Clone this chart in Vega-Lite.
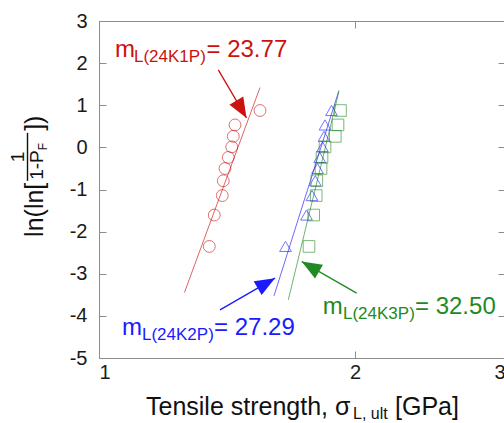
{
  "$schema": "https://vega.github.io/schema/vega-lite/v6.json",
  "width": 406,
  "height": 337,
  "autosize": {"type": "none"},
  "padding": {"left": 99, "top": 21, "right": 0, "bottom": 65},
  "background": "white",
  "config": {
    "view": {"stroke": "#8c8c8c", "strokeWidth": 1},
    "axis": {"grid": false, "domain": false, "tickColor": "#8c8c8c", "tickSize": -7, "labelFont": "Liberation Sans", "labelFontSize": 20, "labelColor": "#1a1a1a"},
    "text": {"font": "Liberation Sans"}
  },
  "datasets": {
    "pts": [
      {"series": "24K1P", "sigma": 1.3478, "lnln": -2.351},
      {"series": "24K1P", "sigma": 1.3661, "lnln": -1.606},
      {"series": "24K1P", "sigma": 1.3960, "lnln": -1.144},
      {"series": "24K1P", "sigma": 1.3998, "lnln": -0.794},
      {"series": "24K1P", "sigma": 1.4063, "lnln": -0.501},
      {"series": "24K1P", "sigma": 1.4189, "lnln": -0.238},
      {"series": "24K1P", "sigma": 1.4320, "lnln": 0.012},
      {"series": "24K1P", "sigma": 1.4382, "lnln": 0.262},
      {"series": "24K1P", "sigma": 1.4449, "lnln": 0.533},
      {"series": "24K1P", "sigma": 1.5460, "lnln": 0.875},
      {"series": "24K2P", "sigma": 1.6564, "lnln": -2.351},
      {"series": "24K2P", "sigma": 1.7533, "lnln": -1.606},
      {"series": "24K2P", "sigma": 1.7796, "lnln": -1.144},
      {"series": "24K2P", "sigma": 1.7955, "lnln": -0.794},
      {"series": "24K2P", "sigma": 1.8063, "lnln": -0.501},
      {"series": "24K2P", "sigma": 1.8171, "lnln": -0.238},
      {"series": "24K2P", "sigma": 1.8309, "lnln": 0.012},
      {"series": "24K2P", "sigma": 1.8383, "lnln": 0.262},
      {"series": "24K2P", "sigma": 1.8433, "lnln": 0.533},
      {"series": "24K2P", "sigma": 1.8760, "lnln": 0.875},
      {"series": "24K3P", "sigma": 1.7652, "lnln": -2.351},
      {"series": "24K3P", "sigma": 1.7878, "lnln": -1.606},
      {"series": "24K3P", "sigma": 1.7999, "lnln": -1.144},
      {"series": "24K3P", "sigma": 1.8029, "lnln": -0.794},
      {"series": "24K3P", "sigma": 1.8235, "lnln": -0.501},
      {"series": "24K3P", "sigma": 1.8284, "lnln": -0.238},
      {"series": "24K3P", "sigma": 1.8433, "lnln": 0.012},
      {"series": "24K3P", "sigma": 1.8954, "lnln": 0.262},
      {"series": "24K3P", "sigma": 1.9093, "lnln": 0.533},
      {"series": "24K3P", "sigma": 1.9223, "lnln": 0.875}
    ],
    "fits": [
      {"series": "24K1P", "sigma": 1.260, "lnln": -3.447},
      {"series": "24K1P", "sigma": 1.546, "lnln": 1.42},
      {"series": "24K2P", "sigma": 1.6056, "lnln": -3.525},
      {"series": "24K2P", "sigma": 1.914, "lnln": 1.348},
      {"series": "24K3P", "sigma": 1.669, "lnln": -3.62},
      {"series": "24K3P", "sigma": 1.914, "lnln": 1.325}
    ],
    "arrows": [
      {"series": "24K1P", "x1": 1.3810, "y1": 1.840, "x2": 1.4905, "y2": 0.700},
      {"series": "24K2P", "x1": 1.3874, "y1": -3.858, "x2": 1.6099, "y2": -3.105},
      {"series": "24K3P", "x1": 2.0083, "y1": -3.461, "x2": 1.7306, "y2": -2.711}
    ],
    "mtext": [
      {"series": "24K1P", "x": 1.0442, "y": 2.1555, "t": "m"},
      {"series": "24K1P", "x": 1.3376, "y": 2.1555, "t": "= 23.77"},
      {"series": "24K2P", "x": 1.0642, "y": -4.451, "t": "m"},
      {"series": "24K2P", "x": 1.3651, "y": -4.451, "t": "= 27.29"},
      {"series": "24K3P", "x": 1.8319, "y": -3.960, "t": "m"},
      {"series": "24K3P", "x": 2.3515, "y": -3.960, "t": "= 32.50"}
    ],
    "stext": [
      {"series": "24K1P", "x": 1.0993, "y": 2.0368, "t": "L(24K1P)"},
      {"series": "24K2P", "x": 1.1234, "y": -4.570, "t": "L(24K2P)"},
      {"series": "24K3P", "x": 1.9353, "y": -4.078, "t": "L(24K3P)"}
    ]
  },
  "layer": [
    {
      "data": {"name": "fits"},
      "mark": {"type": "line", "strokeWidth": 1, "opacity": 0.65},
      "encoding": {
        "x": {"field": "sigma", "type": "quantitative", "scale": {"type": "log", "domain": [1, 3], "nice": false}, "axis": {"orient": "top", "values": [1, 2, 3], "labels": false, "title": null}},
        "y": {"field": "lnln", "type": "quantitative", "scale": {"domain": [-5, 3], "nice": false, "zero": false}, "axis": {"orient": "right", "values": [-5, -4, -3, -2, -1, 0, 1, 2, 3], "labels": false, "title": null}},
        "color": {"field": "series", "type": "nominal", "scale": {"domain": ["24K1P", "24K2P", "24K3P"], "range": ["#cc1111", "#1a1aff", "#228a22"]}, "legend": null},
        "detail": {"field": "series"}
      }
    },
    {
      "data": {"name": "pts"},
      "mark": {"type": "point", "filled": false, "strokeWidth": 1, "opacity": 0.6},
      "encoding": {
        "x": {"field": "sigma", "type": "quantitative", "axis": {"orient": "bottom", "values": [1, 2, 3], "labelExpr": "datum.value + ''", "labelPadding": 11, "title": null}},
        "y": {"field": "lnln", "type": "quantitative", "axis": {"orient": "left", "values": [-5, -4, -3, -2, -1, 0, 1, 2, 3], "labelExpr": "datum.value + ''", "labelPadding": 19, "title": null}},
        "color": {"field": "series", "type": "nominal", "legend": null},
        "shape": {"field": "series", "type": "nominal", "scale": {"domain": ["24K1P", "24K2P", "24K3P"], "range": ["circle", "triangle-up", "square"]}, "legend": null},
        "size": {"field": "series", "type": "ordinal", "scale": {"domain": ["24K1P", "24K2P", "24K3P"], "range": [140, 135, 185]}, "legend": null}
      }
    },
    {
      "data": {"name": "arrows"},
      "mark": {"type": "rule", "strokeWidth": 1.3},
      "encoding": {
        "x": {"field": "x1", "type": "quantitative", "axis": null},
        "y": {"field": "y1", "type": "quantitative", "axis": null},
        "x2": {"field": "x2"},
        "y2": {"field": "y2"},
        "color": {"field": "series", "type": "nominal", "legend": null}
      }
    },
    {
      "data": {"name": "arrows"},
      "transform": [{"filter": "datum.series == '24K1P'"}],
      "mark": {"type": "point", "shape": "M0,0L-0.4,1L0.4,1Z", "filled": true, "opacity": 1, "size": 1600, "angle": 149.6},
      "encoding": {
        "x": {"field": "x2", "type": "quantitative", "axis": null},
        "y": {"field": "y2", "type": "quantitative", "axis": null},
        "color": {"field": "series", "type": "nominal", "legend": null}
      }
    },
    {
      "data": {"name": "arrows"},
      "transform": [{"filter": "datum.series == '24K2P'"}],
      "mark": {"type": "point", "shape": "M0,0L-0.4,1L0.4,1Z", "filled": true, "opacity": 1, "size": 1600, "angle": 60},
      "encoding": {
        "x": {"field": "x2", "type": "quantitative", "axis": null},
        "y": {"field": "y2", "type": "quantitative", "axis": null},
        "color": {"field": "series", "type": "nominal", "legend": null}
      }
    },
    {
      "data": {"name": "arrows"},
      "transform": [{"filter": "datum.series == '24K3P'"}],
      "mark": {"type": "point", "shape": "M0,0L-0.4,1L0.4,1Z", "filled": true, "opacity": 1, "size": 1600, "angle": 300},
      "encoding": {
        "x": {"field": "x2", "type": "quantitative", "axis": null},
        "y": {"field": "y2", "type": "quantitative", "axis": null},
        "color": {"field": "series", "type": "nominal", "legend": null}
      }
    },
    {
      "data": {"name": "mtext"},
      "mark": {"type": "text", "fontSize": 24, "align": "left", "baseline": "alphabetic"},
      "encoding": {
        "x": {"field": "x", "type": "quantitative", "axis": null},
        "y": {"field": "y", "type": "quantitative", "axis": null},
        "text": {"field": "t"},
        "color": {"field": "series", "type": "nominal", "legend": null}
      }
    },
    {
      "data": {"name": "stext"},
      "mark": {"type": "text", "fontSize": 17, "align": "left", "baseline": "alphabetic"},
      "encoding": {
        "x": {"field": "x", "type": "quantitative", "axis": null},
        "y": {"field": "y", "type": "quantitative", "axis": null},
        "text": {"field": "t"},
        "color": {"field": "series", "type": "nominal", "legend": null}
      }
    },
    {
      "data": {"values": [
        {"x": 1.1356, "y": -6.350, "t": "Tensile strength, σ"},
        {"x": 2.2277, "y": -6.350, "t": "[GPa]"}
      ]},
      "mark": {"type": "text", "fontSize": 25, "align": "left", "baseline": "alphabetic", "color": "#111111"},
      "encoding": {
        "x": {"field": "x", "type": "quantitative", "axis": null},
        "y": {"field": "y", "type": "quantitative", "axis": null},
        "text": {"field": "t"}
      }
    },
    {
      "data": {"values": [
        {"x": 1.9886, "y": -6.445, "t": "L, ult"}
      ]},
      "mark": {"type": "text", "fontSize": 16, "align": "left", "baseline": "alphabetic", "color": "#111111"},
      "encoding": {
        "x": {"field": "x", "type": "quantitative", "axis": null},
        "y": {"field": "y", "type": "quantitative", "axis": null},
        "text": {"field": "t"}
      }
    },
    {
      "data": {"values": [
        {"x": 0.8594, "y": -2.1247, "t": "ln(ln["},
        {"x": 0.8594, "y": 0.3917, "t": "])"}
      ]},
      "mark": {"type": "text", "fontSize": 25, "align": "left", "baseline": "alphabetic", "angle": 270, "color": "#111111"},
      "encoding": {
        "x": {"field": "x", "type": "quantitative", "axis": null},
        "y": {"field": "y", "type": "quantitative", "axis": null},
        "text": {"field": "t"}
      }
    },
    {
      "data": {"values": [
        {"x": 0.8594, "y": -0.7715, "t": "1-P"}
      ]},
      "mark": {"type": "text", "fontSize": 19, "align": "left", "baseline": "alphabetic", "angle": 270, "color": "#111111"},
      "encoding": {
        "x": {"field": "x", "type": "quantitative", "axis": null},
        "y": {"field": "y", "type": "quantitative", "axis": null},
        "text": {"field": "t"}
      }
    },
    {
      "data": {"values": [
        {"x": 0.8174, "y": -0.2255, "t": "1"}
      ]},
      "mark": {"type": "text", "fontSize": 19, "align": "center", "baseline": "alphabetic", "angle": 270, "color": "#111111"},
      "encoding": {
        "x": {"field": "x", "type": "quantitative", "axis": null},
        "y": {"field": "y", "type": "quantitative", "axis": null},
        "text": {"field": "t"}
      }
    },
    {
      "data": {"values": [
        {"x": 0.8687, "y": -0.0688, "t": "F"}
      ]},
      "mark": {"type": "text", "fontSize": 12, "align": "left", "baseline": "alphabetic", "angle": 270, "color": "#111111"},
      "encoding": {
        "x": {"field": "x", "type": "quantitative", "axis": null},
        "y": {"field": "y", "type": "quantitative", "axis": null},
        "text": {"field": "t"}
      }
    },
    {
      "data": {"values": [
        {"x": 0.8241, "y": -0.795, "y2": 0.344}
      ]},
      "mark": {"type": "rule", "strokeWidth": 1.4, "color": "#111111"},
      "encoding": {
        "x": {"field": "x", "type": "quantitative", "axis": null},
        "y": {"field": "y", "type": "quantitative", "axis": null},
        "y2": {"field": "y2"}
      }
    }
  ],
  "resolve": {"axis": {"x": "independent", "y": "independent"}}
}
